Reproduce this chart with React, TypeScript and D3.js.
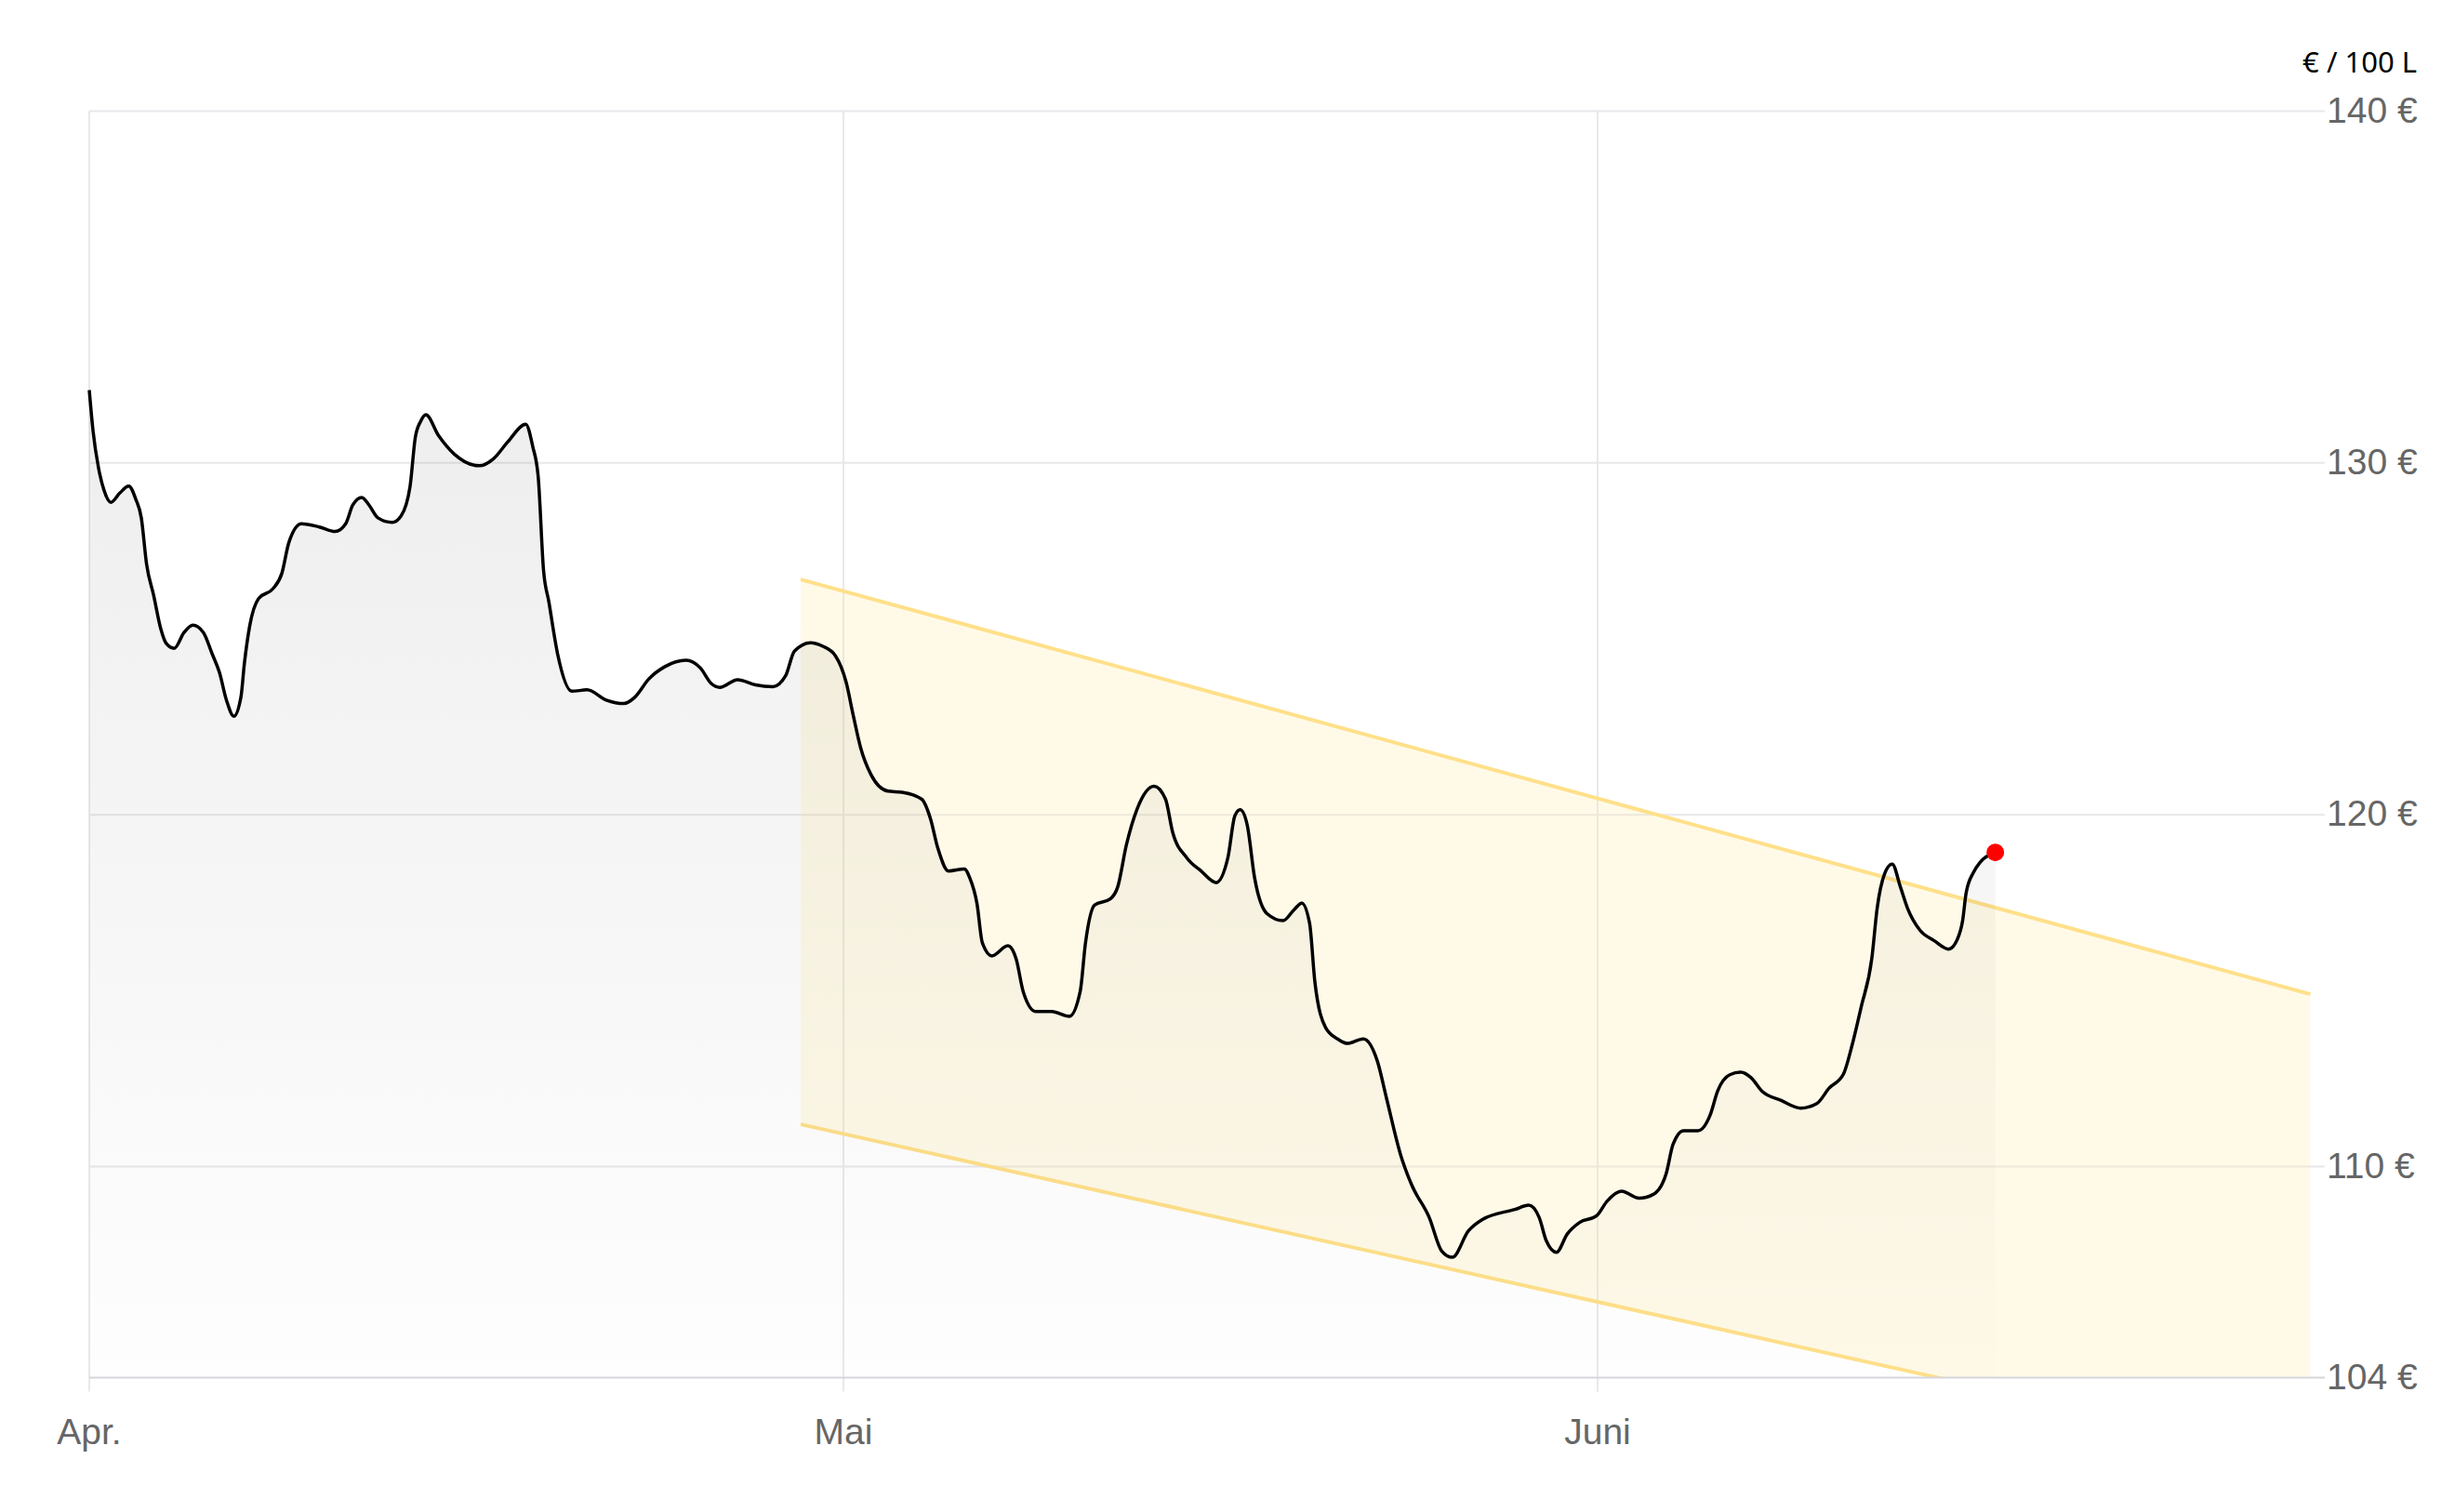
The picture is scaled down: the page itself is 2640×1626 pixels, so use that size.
import React from "react";
import * as d3 from "d3";

// Day offsets from 1 April (fractional days) and price in € / 100 L
const DAYS = [
  0, 0.15, 0.37, 0.58, 0.86, 1.22, 1.57, 1.85, 2.07, 2.28, 2.56, 2.85, 3.06, 3.38, 3.77, 4.12, 4.54, 4.89,
  5.18, 5.46, 5.75, 6.03, 6.17, 6.38, 6.74, 7.3, 7.66, 7.94, 8.44, 9.15, 9.78, 10.2, 10.48, 10.84, 11.13,
  11.48, 12.05, 12.4, 12.76, 12.97, 13.18, 13.39, 13.89, 14.52, 15.52, 16.08, 16.65, 17.36, 17.64, 17.86,
  18.07, 18.28, 18.63, 19.2, 19.8, 20.56, 21.27, 21.69, 22.26, 22.9, 23.74, 24.31, 24.74, 25.08, 25.79,
  26.5, 27.2, 27.7, 28.05, 28.69, 29.18, 29.68, 30.11, 30.41, 30.7, 31.14, 31.83, 32.41, 33.22, 33.58,
  33.88, 34.32, 34.97, 35.19, 35.49, 35.71, 36.1, 36.76, 37.1, 37.39, 37.9, 38.56, 39.29, 39.73, 39.95,
  40.32, 40.97, 41.27, 41.63, 42.07, 42.77, 43.24, 43.53, 44.12, 44.7, 45.32, 45.8, 46.09, 46.31, 46.6,
  46.9, 47.41, 48.07, 48.51, 48.84, 49.16, 49.38, 49.82, 50.33, 50.71, 51.37, 51.95, 52.32, 52.9, 53.35,
  54.08, 54.59, 55.03, 55.69, 56.28, 57.6, 58.17, 58.6, 58.89, 59.31, 59.75, 60.26, 60.96, 61.38, 61.95,
  62.65, 63.22, 63.72, 64.0, 64.42, 64.99, 65.48, 65.77, 66.26, 66.69, 67.11, 67.54, 68.3, 69.08, 69.72,
  70.21, 70.78, 71.13, 71.48, 71.91, 72.12, 72.41, 72.72, 73.04, 73.33, 73.82, 74.39, 74.96, 75.31,
  75.52, 75.66, 75.95, 76.23, 76.82,
];
const PRICES = [
  132.07, 130.91, 129.85, 129.24, 128.88, 129.15, 129.34, 128.97, 128.44, 127.12, 126.24, 125.27, 124.87,
  124.73, 125.18, 125.39, 125.18, 124.57, 124.04, 123.25, 122.8, 123.33, 124.3, 125.36, 126.15, 126.42,
  126.86, 127.74, 128.27, 128.18, 128.05, 128.27, 128.8, 129.02, 128.8, 128.44, 128.31, 128.49, 129.33,
  130.73, 131.18, 131.37, 130.78, 130.25, 129.92, 130.12, 130.6, 131.1, 130.47, 129.59, 126.95, 126.06,
  124.57, 123.51, 123.55, 123.26, 123.16, 123.33, 123.86, 124.21, 124.39, 124.17, 123.73, 123.62, 123.84,
  123.69, 123.64, 123.95, 124.65, 124.89, 124.79, 124.52, 123.77, 122.8, 121.92, 121.13, 120.67, 120.64,
  120.44, 119.88, 119.05, 118.4, 118.46, 118.21, 117.47, 116.36, 115.99, 116.28, 115.9, 114.97, 114.41,
  114.41, 114.27, 114.97, 116.36, 117.43, 117.61, 117.94, 119.14, 120.16, 120.81, 120.44, 119.51, 118.77,
  118.4, 118.07, 118.77, 119.97, 120.14, 119.7, 118.21, 117.19, 116.99, 117.29, 117.49, 116.92, 115.24,
  113.95, 113.62, 113.5, 113.63, 112.99, 111.95, 110.34, 109.49, 108.55, 107.6, 107.42, 108.17, 108.5,
  108.78, 108.9, 108.55, 107.89, 107.56, 108.08, 108.41, 108.6, 109.02, 109.3, 109.1, 109.21, 109.78,
  110.63, 111.02, 111.02, 111.47, 112.14, 112.61, 112.68, 112.52, 112.14, 111.88, 111.66, 111.79, 112.23,
  112.63, 113.47, 114.52, 115.93, 117.34, 118.31, 118.6, 117.96, 117.34, 116.72, 116.42, 116.18, 116.46,
  116.99, 117.78, 118.36, 118.66, 118.93,
];

// Month boundaries (day offsets) and labels
const MONTH_DAYS = [0, 30, 61, 91];
const MONTH_TICKS = [0, 30, 61];
const MONTH_LABELS = ["Apr.", "Mai", "Juni"];

// Y axis
const Y_TICKS = [104, 110, 120, 130, 140];
const Y_DOMAIN = [104, 140];
const UNIT_LABEL = "€ / 100 L";

// Trend channel (day offsets, upper and lower bound values)
const CHANNEL_DAYS = [28.3, 89.35];
const CHANNEL_UPPER = [126.69, 114.9];
const CHANNEL_LOWER = [111.2, 101.64];

const W = 2640;
const H = 1626;
const PLOT_LEFT = 96;
const PLOT_RIGHT = 2500;
const PLOT_TOP = 119.5;
const PLOT_BOTTOM = 1481.5;
const MONTH_PX = 811;

export default function App() {
  const x = d3
    .scaleLinear()
    .domain(MONTH_DAYS)
    .range(MONTH_DAYS.map((_, i) => PLOT_LEFT + i * MONTH_PX));
  const y = d3.scaleLinear().domain(Y_DOMAIN).range([PLOT_BOTTOM, PLOT_TOP]);

  const data = DAYS.map((d, i) => ({ d, v: PRICES[i] }));

  const line = d3
    .line<{ d: number; v: number }>()
    .x((p) => x(p.d))
    .y((p) => y(p.v))
    .curve(d3.curveMonotoneX);
  const area = d3
    .area<{ d: number; v: number }>()
    .x((p) => x(p.d))
    .y0(PLOT_BOTTOM)
    .y1((p) => y(p.v))
    .curve(d3.curveMonotoneX);

  const channel = CHANNEL_DAYS.map((d, i) => ({ d, hi: CHANNEL_UPPER[i], lo: CHANNEL_LOWER[i] }));
  const channelArea = d3
    .area<{ d: number; hi: number; lo: number }>()
    .x((p) => x(p.d))
    .y0((p) => y(p.lo))
    .y1((p) => y(p.hi));
  const upperLine = d3
    .line<{ d: number; hi: number; lo: number }>()
    .x((p) => x(p.d))
    .y((p) => y(p.hi));
  const lowerLine = d3
    .line<{ d: number; hi: number; lo: number }>()
    .x((p) => x(p.d))
    .y((p) => y(p.lo));

  const last = data[data.length - 1];
  const font = "'Liberation Sans', Arial, sans-serif";

  return (
    <svg
      width={W}
      height={H}
      style={{ position: "absolute", left: 0, top: 0, background: "#fff" }}
    >
      <defs>
        <clipPath id="plotClip">
          <rect x={PLOT_LEFT} y={PLOT_TOP - 10} width={PLOT_RIGHT - PLOT_LEFT} height={PLOT_BOTTOM - PLOT_TOP + 10} />
        </clipPath>
        <linearGradient id="areaGrad" gradientUnits="userSpaceOnUse" x1="0" y1={PLOT_TOP} x2="0" y2={PLOT_BOTTOM}>
          <stop offset="0" stopColor="#000" stopOpacity={0.085} />
          <stop offset="1" stopColor="#000" stopOpacity={0.005} />
        </linearGradient>
      </defs>

      {/* horizontal grid */}
      {Y_TICKS.filter((t) => t !== 104).map((t) => (
        <line key={t} x1={PLOT_LEFT} x2={PLOT_RIGHT} y1={y(t)} y2={y(t)} stroke="#e8e8ec" strokeWidth={2} />
      ))}
      {/* vertical grid */}
      {MONTH_TICKS.map((t) => (
        <line key={t} x1={x(t)} x2={x(t)} y1={PLOT_TOP} y2={PLOT_BOTTOM + 15} stroke="#e8e8ec" strokeWidth={2} />
      ))}

      {/* channel */}
      <g clipPath="url(#plotClip)">
        <path d={channelArea(channel) || ""} fill="rgb(255,230,150)" fillOpacity={0.22} />
        <path d={upperLine(channel) || ""} fill="none" stroke="#ffe08a" strokeWidth={4} />
        <path d={lowerLine(channel) || ""} fill="none" stroke="#ffe08a" strokeWidth={4} />
      </g>

      {/* price area + line */}
      <path d={area(data) || ""} fill="url(#areaGrad)" />
      <line x1={PLOT_LEFT} x2={PLOT_RIGHT} y1={y(104)} y2={y(104)} stroke="#d6d6db" strokeWidth={2} />
      <path d={line(data) || ""} fill="none" stroke="#000" strokeWidth={3.5} strokeLinejoin="round" strokeLinecap="butt" />
      <circle cx={x(last.d)} cy={y(last.v)} r={9.5} fill="#ff0000" />

      {/* y labels */}
      {Y_TICKS.map((t) => (
        <text key={t} x={PLOT_RIGHT + 2} y={y(t) + 12} fontFamily={font} fontSize={39} fill="#666">
          {`${t} €`}
        </text>
      ))}
      <text x={2599} y={78} textAnchor="end" fontFamily="'Noto Sans', 'Open Sans', sans-serif" fontSize={31} fill="#000">
        {UNIT_LABEL}
      </text>

      {/* x labels */}
      {MONTH_TICKS.map((t, i) => (
        <text key={t} x={x(t)} y={1553} textAnchor="middle" fontFamily={font} fontSize={39} fill="#666">
          {MONTH_LABELS[i]}
        </text>
      ))}
    </svg>
  );
}
